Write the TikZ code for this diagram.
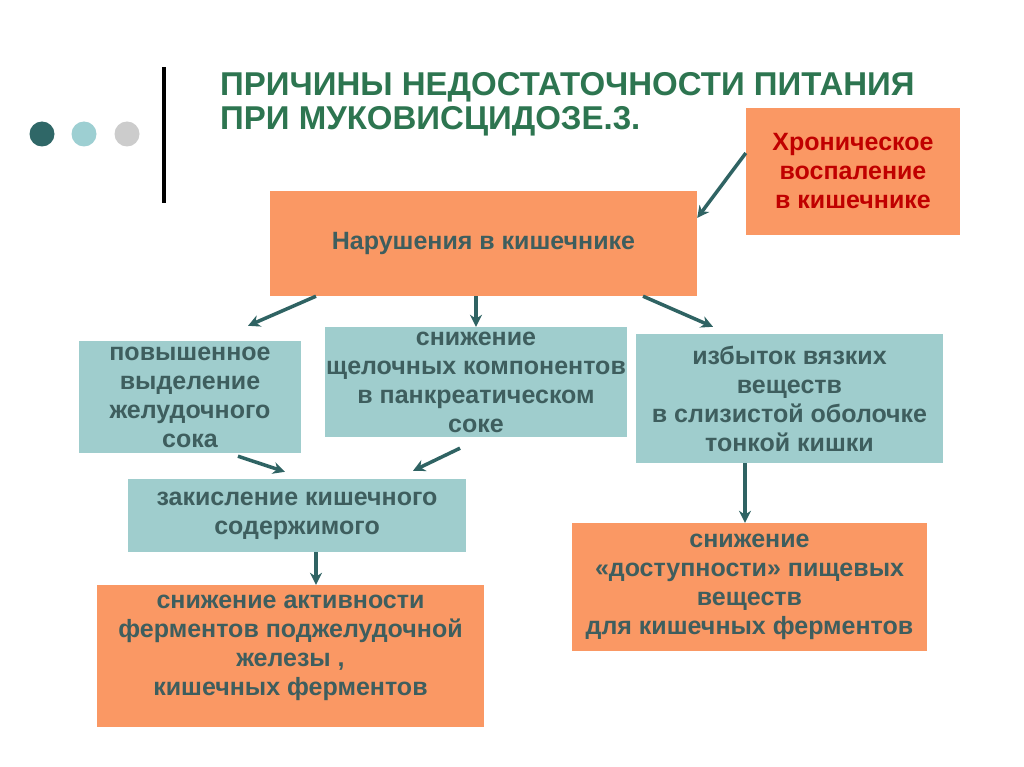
\documentclass[tikz,border=0pt]{standalone}
\usepackage{fontspec}
\setmainfont{Liberation Sans}
\usetikzlibrary{arrows.meta}

\definecolor{boxorange}{HTML}{FA9864}
\definecolor{boxteal}{HTML}{9FCDCD}
\definecolor{txtgray}{HTML}{3E5E5E}
\definecolor{arrteal}{HTML}{2F6363}
\definecolor{ttlgreen}{HTML}{2D7550}
\definecolor{txtred}{HTML}{C00000}
\definecolor{dotdark}{HTML}{2F6767}
\definecolor{dotlight}{HTML}{9DCFD2}
\definecolor{dotgray}{HTML}{CCCCCC}

\tikzset{
  box/.style={inner sep=0pt, align=center, text=txtgray,
    font=\bfseries\fontsize{25}{29}\selectfont},
  obox/.style={box, fill=boxorange},
  tbox/.style={box, fill=boxteal},
  arr/.style={->, draw=arrteal, line width=3.5pt},
  ttl/.style={anchor=base west, inner sep=0pt, text=ttlgreen,
    font=\bfseries\fontsize{33}{36}\selectfont},
}

\begin{document}
\begin{tikzpicture}[x=1pt, y=-1pt, >={Stealth[length=12pt,width=12pt]}]
\useasboundingbox[fill=white] (0,0) rectangle (1024,767);
% dots and bar
\fill[dotdark] (42,134) circle (12.5);
\fill[dotlight] (84,134) circle (12.5);
\fill[dotgray] (127,134) circle (12.5);
\fill[black] (162,67) rectangle (166,203);
% title
\node[ttl] (nTitleA) at (220,96) {ПРИЧИНЫ НЕДОСТАТОЧНОСТИ ПИТАНИЯ};
\node[ttl] (nTitleB) at (220,130) {ПРИ МУКОВИСЦИДОЗЕ.3.};
% boxes
\node[obox, minimum width=427, minimum height=105] (nMain) at (483.5,243.5) {Нарушения в кишечнике};
\node[obox, text=txtred, minimum width=214, minimum height=127] (nChron) at (853,171.5)
  {Хроническое\\воспаление\\в кишечнике};
\node[tbox, minimum width=222, minimum height=112] (nGast) at (190,397)
  {повышенное\\выделение\\желудочного\\сока};
\node[tbox, minimum width=302, minimum height=110] (nAlk) at (476,382)
  {снижение\\щелочных компонентов\\в панкреатическом\\соке};
\node[tbox, minimum width=307, minimum height=129] (nVisc) at (789.5,398.5)
  {избыток вязких\\веществ\\в слизистой оболочке\\тонкой кишки};
\node[tbox, minimum width=338, minimum height=73] (nAcid) at (297,515.5)
  {закисление кишечного\\содержимого};
\node[obox, minimum width=387, minimum height=142] (nEnz) at (290.5,656) {};
\node[box] (tEnz) at ([yshift=8]nEnz.center)
  {снижение активности\\ферментов поджелудочной\\железы ,\\кишечных ферментов};
\node[obox, minimum width=355, minimum height=128] (nAvail) at (749.5,587)
  {снижение\\«доступности» пищевых\\веществ\\для кишечных ферментов};
% arrows
\draw[arr] ([yshift=18.5]nChron.west) -- ([yshift=25.5]nMain.east);
\draw[arr] ([xshift=-167.5]nMain.south) -- ([xshift=58,yshift=15]nGast.north);
\draw[arr] (nMain.south -| nAlk.north) -- (nAlk.north);
\draw[arr] ([xshift=159.5]nMain.south) -- ([xshift=-76.5,yshift=7]nVisc.north);
\draw[arr] ([xshift=48,yshift=-3]nGast.south) -- ([xshift=-12,yshift=7]nAcid.north);
\draw[arr] ([xshift=-16,yshift=-11]nAlk.south) -- ([xshift=116,yshift=8]nAcid.north);
\draw[arr] ([xshift=19]nAcid.south) -- ([xshift=25.5]nEnz.north);
\draw[arr] ([xshift=-44.5]nVisc.south) -- ([xshift=-4.5]nAvail.north);
\end{tikzpicture}
\end{document}
